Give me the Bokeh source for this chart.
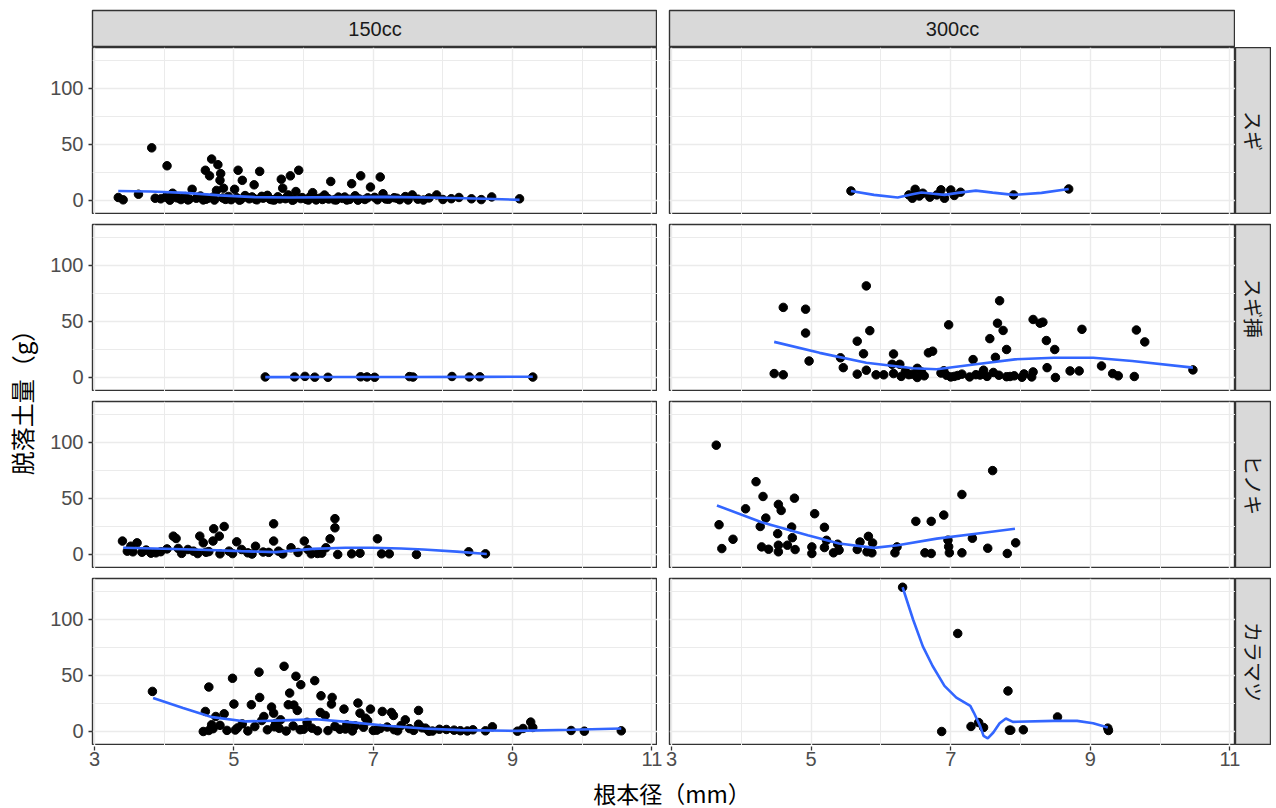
import math
from bokeh.plotting import figure
from bokeh.layouts import row, column
from bokeh.models import FixedTicker, Range1d, Spacer, Grid, LinearAxis
from bokeh.core.properties import value
from bokeh.embed import file_html
from bokeh.resources import INLINE

# ---------------- data ----------------
col_labels = ["150cc", "300cc"]
row_labels = ["スギ", "スギ挿", "ヒノキ", "カラマツ"]
x_title = "根本径（mm）"
y_title = "脱落土量（g）"
x_ticks = [3, 5, 7, 9, 11]
x_minor_ticks = [4, 6, 8, 10]
y_ticks = [0, 50, 100]
y_minor_ticks = [25, 75, 125]

# スギ 150cc
sugi_150_x = [3.34, 3.41, 3.63, 3.82, 4.04, 3.87, 3.95, 4.02, 4.12, 4.18,
              4.24, 4.30, 4.36, 4.40, 4.46, 4.52, 4.56, 4.59, 4.62, 4.65,
              4.68, 4.70, 4.75, 4.77, 4.80, 4.81, 4.85, 4.88, 4.92, 4.96,
              5.01, 5.04, 5.06, 5.10, 5.12, 5.16, 5.22, 5.26, 5.29, 5.33,
              5.37, 5.42, 5.48, 5.52, 5.58, 5.63, 5.68, 5.70, 5.74, 5.78,
              5.81, 5.86, 5.89, 5.93, 5.98, 6.04, 6.10, 6.13, 6.18, 6.24,
              6.30, 6.36, 6.39, 6.44, 6.50, 6.56, 6.62, 6.69, 6.74, 6.80,
              6.82, 6.88, 6.96, 7.02, 7.10, 7.14, 7.22, 7.30, 7.38, 7.46,
              7.56, 7.64, 7.72, 7.80, 7.91, 8.00, 8.12, 8.23, 8.41, 8.55,
              8.70, 9.10,
              4.08, 4.22, 4.34, 4.48, 4.60, 4.72, 4.84, 4.94, 5.08, 5.20,
              5.31, 5.40, 5.55, 5.66, 5.76, 5.84, 5.96, 6.07, 6.16, 6.27,
              6.34, 6.47, 6.59, 6.66, 6.78, 6.92, 7.06, 7.18, 7.34, 7.50]
sugi_150_y = [2.7, 0.6, 5.6, 47, 31, 2.0, 1.5, 3.0, 6.5, 2.4,
              0.8, 3.5, 1.2, 10, 2.0, 4.0, 0.5, 27, 1.8, 22,
              37, 3.0, 9.0, 32, 18, 24, 11, 1.0, 3.6, 0.7,
              10, 2.5, 27, 0.9, 18, 4.4, 1.5, 3.2, 14, 0.6,
              26, 2.1, 4.6, 1.1, 0.4, 3.3, 19, 11, 1.6, 5.0,
              22, 0.8, 8.0, 27, 2.6, 1.0, 3.8, 7.0, 0.5, 2.2,
              4.9, 1.3, 17, 0.6, 3.1, 1.9, 0.4, 15, 4.2, 1.4,
              22, 0.9, 12, 2.8, 21, 6.0, 1.1, 2.5, 0.7, 3.5,
              5.0, 1.2, 0.4, 2.3, 5.0, 0.9, 1.6, 2.7, 1.5, 0.8,
              3.2, 1.5,
              0.3, 1.9, 0.5, 2.8, 1.2, 0.4, 2.2, 1.6, 0.3, 2.6,
              1.1, 3.7, 0.6, 1.4, 2.9, 0.2, 1.7, 0.4, 2.5, 0.9,
              2.0, 0.5, 3.1, 1.0, 0.3, 2.4, 0.6, 1.3, 2.0, 0.5]
sugi_150_fit_x = [3.34, 3.8, 4.3, 4.8, 5.3, 5.8, 6.5, 7.2, 8.0, 8.6, 9.1]
sugi_150_fit_y = [8.5, 8.0, 6.8, 4.6, 3.0, 2.7, 3.0, 3.2, 2.4, 1.5, 0.6]

# スギ 300cc
sugi_300_x = [5.57, 6.40, 6.45, 6.49, 6.55, 6.60, 6.70, 6.80, 6.86, 6.91,
              7.00, 7.05, 7.14, 7.90, 8.69]
sugi_300_y = [8.5, 5.0, 2.0, 10, 4.0, 6.5, 3.0, 5.0, 9.5, 2.0,
              9.4, 4.5, 7.4, 5.0, 10.3]
sugi_300_fit_x = [5.57, 5.9, 6.24, 6.45, 6.58, 6.75, 6.91, 7.1, 7.36, 7.6, 7.9, 8.3, 8.69]
sugi_300_fit_y = [8.5, 5.0, 2.7, 5.5, 7.2, 6.0, 5.0, 6.8, 8.8, 7.0, 5.0, 6.8, 10.3]

# スギ挿 150cc
sugisashi_150_x = [5.45, 5.87, 6.02, 6.16, 6.35, 6.82, 6.91, 7.02, 7.52, 7.57,
                   8.13, 8.38, 8.53, 9.29]
sugisashi_150_y = [0.5, 0.5, 1.0, 0.3, 0.2, 0.6, 0.5, 0.2, 0.8, 0.4,
                   0.9, 0.5, 0.6, 0.4]
sugisashi_150_fit_x = [5.45, 6.5, 7.5, 8.5, 9.29]
sugisashi_150_fit_y = [0.3, 0.4, 0.5, 0.6, 0.7]

# スギ挿 300cc
sugisashi_300_x = [4.47, 4.60, 4.60, 4.92, 4.92, 4.97, 5.42, 5.46, 5.66, 5.75,
                   5.79, 5.84, 5.66, 5.79, 5.93, 6.04, 6.18, 6.16, 6.27, 6.18,
                   6.29, 6.40, 6.52, 6.52, 6.62, 6.74, 6.68, 6.86, 6.94, 7.05,
                   7.16, 7.27, 6.97, 7.32, 7.36, 7.47, 7.52, 7.61, 7.69, 7.80,
                   7.91, 8.02, 8.16, 8.18, 7.56, 7.64, 7.67, 7.70, 7.75, 7.80,
                   8.18, 8.28, 8.32, 8.37, 8.38, 8.49, 8.50, 8.71, 8.84, 8.88,
                   9.16, 9.32, 9.40, 9.63, 9.66, 9.78, 10.47, 6.45, 6.58, 7.00,
                   7.10, 7.42, 7.85, 8.05, 6.35, 6.90]
sugisashi_300_y = [3.5, 2.4, 62.6, 61, 39.7, 14.7, 17.6, 8.8, 32.4, 21.2,
                   81.8, 41.8, 3.0, 6.5, 2.4, 2.4, 21, 11.8, 11.8, 3.5,
                   1.0, 2.5, 0.0, 8.2, 1.5, 23.5, 22, 4.0, 2.0, 1.0,
                   3.0, 0.5, 47, 16, 2.5, 6.5, 1.0, 4.5, 2.0, 0.7,
                   1.5, 0.2, 0.5, 5.0, 34.7, 18, 48.5, 68.5, 42, 25,
                   51.8, 48.5, 49.4, 33, 8.8, 25, 0.0, 5.9, 5.9, 43,
                   10.3, 3.5, 1.5, 0.9, 42.4, 31.8, 6.8, 3.0, 5.0, 0.5,
                   1.8, 2.2, 0.9, 3.2, 5.5, 6.0]
sugisashi_300_fit_x = [4.47, 5.12, 5.79, 6.46, 6.80, 7.36, 7.92, 8.48, 9.04, 9.60, 10.47]
sugisashi_300_fit_y = [31.8, 22, 13.2, 8.2, 7.4, 11.8, 16.2, 17.6, 17.6, 14.7, 8.8]

# ヒノキ 150cc
hinoki_150_x = [3.40, 3.47, 3.55, 3.61, 3.52, 3.68, 3.81, 3.95, 4.04, 4.13,
                4.17, 4.20, 4.34, 4.42, 4.51, 4.56, 4.70, 4.71, 4.79, 4.86,
                4.80, 4.93, 5.04, 5.11, 5.31, 5.57, 5.57, 5.64, 5.82, 6.01,
                6.06, 6.11, 6.32, 6.38, 6.45, 6.45, 6.49, 6.69, 6.81, 7.06,
                7.12, 7.23, 7.62, 8.37, 8.61, 4.25, 4.60, 4.98, 5.20, 5.42,
                5.70, 5.92, 6.20, 3.74, 3.88, 4.48, 4.64, 5.26, 5.50, 6.26]
hinoki_150_y = [12, 3.0, 2.4, 10.4, 7.4, 2.0, 1.2, 2.5, 5.0, 16.4,
                14.3, 5.4, 4.5, 3.0, 16.4, 10.4, 12, 23, 16.4, 25,
                0.6, 3.0, 11.3, 4.5, 7.4, 27.4, 12, 3.0, 6.0, 12,
                4.5, 0.6, 6.0, 14, 23.8, 32, 0.0, 0.6, 1.2, 14,
                0.6, 0.6, 0.0, 2.4, 0.6, 1.0, 2.0, 0.8, 1.5, 2.2,
                0.5, 1.8, 0.9, 4.0, 1.5, 0.8, 2.6, 0.4, 1.9, 1.2]
hinoki_150_fit_x = [3.41, 4.0, 4.53, 5.1, 5.60, 6.13, 6.6, 6.98, 7.4, 7.72, 8.2, 8.63]
hinoki_150_fit_y = [6.0, 5.2, 4.2, 3.0, 2.1, 5.0, 6.0, 6.0, 5.4, 4.5, 2.6, 0.5]

# ヒノキ 300cc
hinoki_300_x = [3.64, 3.68, 3.72, 3.88, 4.06, 4.21, 4.27, 4.29, 4.31, 4.35,
                4.39, 4.52, 4.53, 4.57, 4.53, 4.53, 4.66, 4.72, 4.73, 4.76,
                4.77, 5.01, 5.01, 5.05, 5.19, 5.19, 5.22, 5.32, 5.38, 5.40,
                5.66, 5.70, 5.80, 5.82, 5.87, 5.88, 6.20, 6.23, 6.50, 6.63,
                6.72, 6.72, 6.90, 6.96, 6.97, 6.98, 7.16, 7.16, 7.31, 7.53,
                7.60, 7.81, 7.93]
hinoki_300_y = [97.6, 26.6, 5.3, 13.6, 40.8, 65, 25, 6.8, 51.8, 32.5,
                4.7, 18.6, 44.7, 39.3, 8.3, 2.4, 8.3, 24.5, 15, 50.3,
                4.4, 6.8, 0.9, 36.4, 24.3, 6.2, 12.7, 1.5, 9.2, 3.9,
                4.5, 11.2, 2.4, 16.2, 1.5, 10.3, 1.5, 6.8, 29.6, 1.5,
                0.9, 29.6, 35.2, 12.8, 7.0, 1.5, 53.6, 1.5, 14.5, 5.6,
                74.9, 0.9, 10.4]
hinoki_300_fit_x = [3.65, 4.28, 4.95, 5.40, 5.90, 6.24, 6.80, 7.36, 7.92]
hinoki_300_fit_y = [43.8, 29, 17.2, 9.8, 5.9, 8.3, 14.2, 18.6, 23]

# カラマツ 150cc
karamatsu_150_x = [3.83, 4.59, 4.64, 4.56, 4.64, 4.74, 4.86, 4.98, 5.00, 5.25,
                   5.36, 5.37, 5.43, 5.54, 5.57, 5.67, 5.72, 5.80, 5.78, 5.86,
                   5.89, 5.91, 5.96, 6.16, 6.25, 6.24, 6.31, 6.41, 6.40, 6.58,
                   6.78, 6.81, 6.89, 6.96, 7.13, 7.26, 7.29, 7.46, 7.65, 7.65,
                   7.75, 7.95, 8.16, 8.43, 8.61, 8.71, 9.07, 9.15, 9.26, 9.29,
                   9.84, 10.03, 10.56, 4.70, 4.80, 4.90, 5.05, 5.12, 5.20, 5.30,
                   5.48, 5.60, 5.65, 5.75, 5.85, 5.95, 6.05, 6.12, 6.35, 6.45,
                   6.52, 6.62, 6.70, 6.86, 6.92, 7.05, 7.20, 7.35, 7.40, 7.52,
                   7.58, 7.70, 7.85, 8.05, 8.25, 4.68, 5.02, 5.40, 5.58, 6.00,
                   6.20, 6.60, 6.74, 7.00, 7.10, 7.30, 7.80, 8.35]
karamatsu_150_y = [35.8, 17.9, 39.7, 0.0, 0.9, 13.4, 15.8, 47.5, 24.5, 23.9,
                   53, 30.4, 13.4, 21.8, 16.4, 10.4, 58.2, 34.3, 23.9, 23.6,
                   49.3, 18.8, 41.8, 45.4, 31.9, 17, 14.3, 30.4, 24.5, 20,
                   25.4, 16.4, 11.9, 20, 17.9, 17, 14.3, 10.4, 18.8, 6.5,
                   3.0, 2.0, 1.2, 1.5, 0.6, 4.2, 0.3, 2.7, 8.4, 3.6,
                   0.9, 0.3, 0.6, 2.5, 5.5, 1.0, 3.2, 6.8, 0.5, 4.4,
                   1.5, 7.2, 2.8, 0.4, 5.0, 1.6, 8.2, 3.0, 0.8, 4.6,
                   2.0, 6.1, 0.5, 3.8, 9.5, 1.2, 4.0, 0.6, 5.4, 2.6,
                   1.0, 3.3, 0.4, 1.8, 0.7, 6.0, 1.3, 9.8, 4.2, 2.0,
                   0.6, 2.2, 5.1, 0.9, 2.7, 1.6, 0.2, 0.5]
karamatsu_150_fit_x = [3.84, 4.27, 4.69, 5.17, 5.70, 6.18, 6.66, 7.19, 7.72, 8.25, 9.05, 9.85, 10.56]
karamatsu_150_fit_y = [29.9, 20.9, 12.8, 9.0, 9.9, 11.0, 8.4, 5.1, 2.7, 1.2, 0.6, 1.5, 2.7]

# カラマツ 300cc
karamatsu_300_x = [6.31, 6.87, 7.10, 7.29, 7.40, 7.47, 7.82, 7.84, 7.86, 8.04,
                   8.53, 9.25, 9.26]
karamatsu_300_y = [128.8, 0.0, 87.5, 4.5, 8.0, 3.6, 36.2, 1.2, 1.2, 1.5,
                   13, 3.0, 0.9]
karamatsu_300_fit_x = [6.31, 6.46, 6.60, 6.74, 6.91, 7.08, 7.28, 7.33, 7.42, 7.47,
                       7.53, 7.61, 7.70, 7.79, 7.89, 8.48, 8.81, 9.04, 9.25]
karamatsu_300_fit_y = [128.8, 100, 76, 58.5, 40.7, 30.3, 22.8, 16.9, 5.0, -3.9,
                       -6.2, -0.9, 7.4, 11.6, 8.6, 9.5, 9.5, 7.4, 3.6]

panel_data = [
    [(sugi_150_x, sugi_150_y, sugi_150_fit_x, sugi_150_fit_y),
     (sugi_300_x, sugi_300_y, sugi_300_fit_x, sugi_300_fit_y)],
    [(sugisashi_150_x, sugisashi_150_y, sugisashi_150_fit_x, sugisashi_150_fit_y),
     (sugisashi_300_x, sugisashi_300_y, sugisashi_300_fit_x, sugisashi_300_fit_y)],
    [(hinoki_150_x, hinoki_150_y, hinoki_150_fit_x, hinoki_150_fit_y),
     (hinoki_300_x, hinoki_300_y, hinoki_300_fit_x, hinoki_300_fit_y)],
    [(karamatsu_150_x, karamatsu_150_y, karamatsu_150_fit_x, karamatsu_150_fit_y),
     (karamatsu_300_x, karamatsu_300_y, karamatsu_300_fit_x, karamatsu_300_fit_y)],
]

# ---------------- layout constants ----------------
X_RANGE = (2.97, 11.08)
Y_RANGE = (-12.5, 136.6)
FRAME_W = [565, 566]
LEFT_B = [46, 12]
FRAME_H = 167
ROW_GAP = 10
YLAB_W = 46
STRIP_W = 36
STRIP_TOP = 10
STRIP_H = 37
AXIS_H = 29
XLAB_H = 34
LATIN = "Liberation Sans"
CJK = "Noto Sans CJK JP"
BORDER = "#333333"


def base_fig(width, height, left, right, top, bottom, xr, yr):
    p = figure(width=width, height=height, x_range=xr, y_range=yr,
               output_backend="svg", toolbar_location=None, tools="",
               x_axis_location=None, y_axis_location=None,
               min_border_left=left, min_border_right=right,
               min_border_top=top, min_border_bottom=bottom)
    p.center = [c for c in p.center if not isinstance(c, Grid)]
    p.outline_line_color = None
    p.border_fill_color = "white"
    return p


def style_axis(ax, standoff):
    ax.axis_line_color = None
    ax.major_tick_line_color = BORDER
    ax.major_tick_line_width = 1.3
    ax.major_tick_out = 4
    ax.major_tick_in = 0
    ax.minor_tick_line_color = None
    ax.major_label_text_font = LATIN
    ax.major_label_text_font_size = "20px"
    ax.major_label_text_color = "#4D4D4D"
    ax.major_label_standoff = standoff


def panel_fig(ri, ci, xs, ys, fx, fy):
    top = 0 if ri == 0 else ROW_GAP
    left = LEFT_B[ci]
    p = base_fig(left + FRAME_W[ci], top + FRAME_H, left, 0, top, 0,
                 Range1d(*X_RANGE), Range1d(*Y_RANGE))
    gx = Grid(dimension=0, ticker=FixedTicker(ticks=x_ticks, minor_ticks=x_minor_ticks))
    gy = Grid(dimension=1, ticker=FixedTicker(ticks=y_ticks, minor_ticks=y_minor_ticks))
    for g in (gx, gy):
        g.grid_line_color = "#EBEBEB"
        g.grid_line_width = 1.4
        g.minor_grid_line_color = "#EBEBEB"
        g.minor_grid_line_width = 1.0
        p.add_layout(g, "center")
    p.outline_line_color = BORDER
    p.outline_line_width = 1.4
    if ci == 0:
        ax = LinearAxis(ticker=FixedTicker(ticks=y_ticks))
        style_axis(ax, 5)
        p.add_layout(ax, "left")
    p.scatter(xs, ys, size=8.5, color="black")
    p.line(fx, fy, line_color="#3366FF", line_width=2.6)
    return p


def axis_fig(ci):
    left = LEFT_B[0] if ci == 0 else 6
    right = 6 if ci == 0 else STRIP_W
    p = base_fig(left + FRAME_W[ci] + right, AXIS_H, left, right, 0, AXIS_H - 1,
                 Range1d(*X_RANGE), Range1d(0, 1))
    ax = LinearAxis(ticker=FixedTicker(ticks=x_ticks))
    style_axis(ax, 1)
    p.add_layout(ax, "below")
    return p


def strip_fig(width, height, left, top, label, vertical):
    p = base_fig(width, height, left, 0, top, 0, Range1d(0, 1), Range1d(0, 1))
    p.background_fill_color = "#D9D9D9"
    p.outline_line_color = BORDER
    p.outline_line_width = 1.4
    p.text(x=[0.5], y=[0.5], text=[label],
           angle=-math.pi / 2 if vertical else 0,
           text_align="center", text_baseline="middle",
           text_font=value(CJK if vertical else LATIN),
           text_font_size="20px", text_color="#1A1A1A")
    return p


# top strips
top_row = row(
    Spacer(width=YLAB_W, height=STRIP_TOP + STRIP_H),
    strip_fig(LEFT_B[0] + FRAME_W[0], STRIP_TOP + STRIP_H, LEFT_B[0], STRIP_TOP, col_labels[0], False),
    strip_fig(LEFT_B[1] + FRAME_W[1], STRIP_TOP + STRIP_H, LEFT_B[1], STRIP_TOP, col_labels[1], False),
    Spacer(width=STRIP_W, height=STRIP_TOP + STRIP_H),
)

panel_rows = []
for ri in range(4):
    top = 0 if ri == 0 else ROW_GAP
    figs = [panel_fig(ri, ci, *panel_data[ri][ci]) for ci in range(2)]
    rs = strip_fig(STRIP_W, top + FRAME_H, 0, top, row_labels[ri], True)
    panel_rows.append(row(*figs, rs))

total_h = FRAME_H * 4 + ROW_GAP * 3
ylab = base_fig(YLAB_W, total_h, 0, 0, 0, 0, Range1d(0, YLAB_W), Range1d(0, total_h))
ylab.text(x=[21], y=[total_h / 2], text=[y_title], angle=math.pi / 2,
          text_align="center", text_baseline="middle",
          text_font=value(CJK), text_font_size="24px", text_color="black")

middle = row(ylab, column(*panel_rows))

axis_row = row(Spacer(width=YLAB_W, height=AXIS_H), axis_fig(0), axis_fig(1))

total_w = YLAB_W + LEFT_B[0] + FRAME_W[0] + LEFT_B[1] + FRAME_W[1] + STRIP_W
xlab = base_fig(total_w, XLAB_H, 0, 0, 0, 0, Range1d(0, total_w), Range1d(0, XLAB_H))
xlab.text(x=[YLAB_W + LEFT_B[0] + (FRAME_W[0] + LEFT_B[1] + FRAME_W[1]) / 2 + 8],
          y=[XLAB_H - 18], text=[x_title], text_align="center", text_baseline="middle",
          text_font=value(CJK), text_font_size="23px", text_color="black")

layout = column(top_row, middle, axis_row, xlab)

open("out.html", "w").write(file_html(layout, INLINE))
